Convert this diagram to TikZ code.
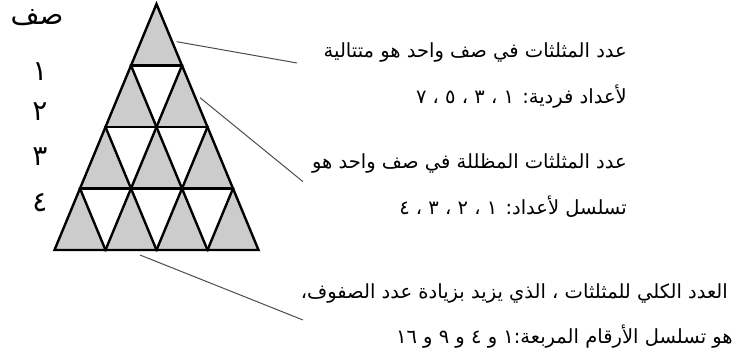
\documentclass[tikz,border=0pt]{standalone}
\usepackage{fontspec}
\newfontfamily\arabicfont[Script=Arabic]{DejaVu Sans}
\TeXXeTstate=1
\definecolor{cellgray}{gray}{0.8}
\definecolor{leadcol}{gray}{0.3}
\begin{document}
\begin{tikzpicture}[x=1pt,y=-1pt,
  gridline/.style={line width=2.4pt, line join=miter, line cap=rect},
  leader/.style={draw=leadcol, line width=1pt},
  txt/.style={anchor=east, inner sep=0pt, font=\arabicfont\fontsize{19.5}{22}\selectfont},
  lbl/.style={inner sep=0pt, font=\arabicfont\fontsize{28}{30}\selectfont}]
\useasboundingbox (0,0) rectangle (736,363);
% shaded upward triangles
\foreach \i in {0,...,3}{
  \foreach \j in {0,...,\i}{
    \pgfmathsetmacro\yb{4+61.5*(\i+1)}
    \pgfmathsetmacro\xl{156.5-25.5*(\i+1)+51*\j}
    \fill[cellgray] (\xl,\yb) -- ++(51,0) -- ++(-25.5,-61.5) -- cycle;
  }
}
% grid lines
\draw[gridline] (156.5,4) -- (258.5,250) -- (54.5,250) -- cycle;
\foreach \k in {1,2,3}{
  \draw[gridline] ({156.5-25.5*\k},{4+61.5*\k}) -- ({156.5+25.5*\k},{4+61.5*\k});
  \draw[gridline] ({54.5+51*\k},250) -- ({54.5+51*\k+25.5*(4-\k)},{250-61.5*(4-\k)});
  \draw[gridline] ({54.5+51*\k},250) -- ({54.5+25.5*\k},{250-61.5*\k});
}
% row labels
\node[lbl] (rowhead) at (37,18) {\beginR صف\endR};
\node[lbl] (r1) at (40,72) {١};
\node[lbl] (r2) at (40,112) {٢};
\node[lbl] (r3) at (40,157) {٣};
\node[lbl] (r4) at (40,203) {٤};
% texts
\node[txt] (t1a) at (627,52) {\beginR عدد المثلثات في صف واحد هو متتالية\endR};
\node[txt] (t1b) at (627,97) {\beginR لأعداد فردية: ١ ، ٣ ، ٥ ، ٧\endR};
\node[txt] (t2a) at (627,163) {\beginR عدد المثلثات المظللة في صف واحد هو\endR};
\node[txt] (t2b) at (627,207) {\beginR تسلسل لأعداد: ١ ، ٢ ، ٣ ، ٤\endR};
\node[txt] (t3a) at (728,293) {\beginR العدد الكلي للمثلثات ، الذي يزيد بزيادة عدد الصفوف،\endR};
\node[txt] (t3b) at (733,337) {\beginR هو تسلسل الأرقام المربعة:١ و ٤ و ٩ و \beginL ١٦\endL\endR};
% leader lines
\coordinate (p1) at (176.7,41.7);
\coordinate (q1) at (297,63);
\coordinate (p2) at (200,97.7);
\coordinate (q2) at (303,181.7);
\coordinate (p3) at (140,255);
\coordinate (q3) at (303,320);
\draw[leader] (p1) -- (q1);
\draw[leader] (p2) -- (q2);
\draw[leader] (p3) -- (q3);
\end{tikzpicture}
\end{document}
